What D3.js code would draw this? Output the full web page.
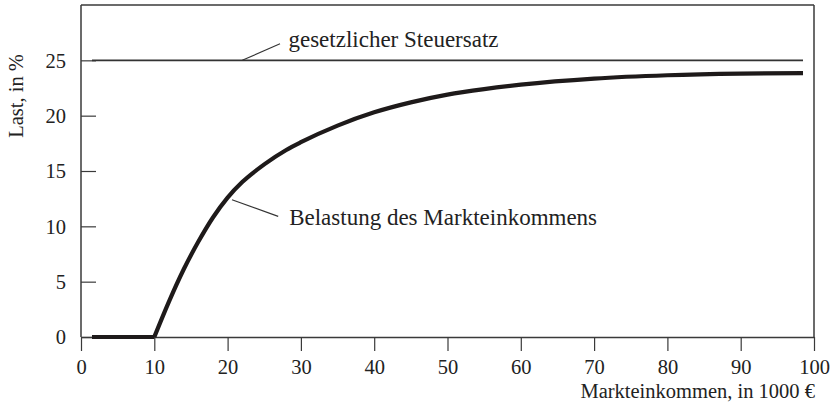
<!DOCTYPE html>
<html lang="de">
<head>
<meta charset="UTF-8">
<title>Belastung des Markteinkommens</title>
<style>
  body { margin: 0; background: #fff; }
  svg text { font-family: 'Liberation Serif', 'DejaVu Serif', serif; fill: #222; }
</style>
</head>
<body>
<div id="chart"></div>
<script src="https://cdnjs.cloudflare.com/ajax/libs/d3/7.8.5/d3.min.js"></script>
<script>
// Achsen
const xTicks = [0, 10, 20, 30, 40, 50, 60, 70, 80, 90, 100];
const yTicks = [0, 5, 10, 15, 20, 25];

// gesetzlicher Steuersatz (konstant)
const rateX = [1.5, 98.5];
const rateY = [25, 25];

// Freibetrag: keine Belastung bis 10
const freeX = [1.5, 10];
const freeY = [0, 0];

// Belastung des Markteinkommens
const loadX = [10, 12, 14, 16, 18, 20, 22, 25, 28, 30, 35, 40, 45, 50, 55, 60, 70, 80, 90, 98.5];
const loadY = [0, 3.2, 6.1, 8.6, 10.8, 12.6, 14.0, 15.6, 16.9, 17.6, 19.1, 20.3, 21.2, 21.9, 22.4, 22.8, 23.35, 23.65, 23.8, 23.85];

const margin = { top: 5, right: 19, bottom: 73, left: 81 };
const width = 833 - margin.left - margin.right;
const height = 410 - margin.top - margin.bottom;

const svg = d3.select("#chart").append("svg")
    .attr("width", 833)
    .attr("height", 410);
const g = svg.append("g")
    .attr("transform", `translate(${margin.left},${margin.top})`);

const x = d3.scaleLinear().domain([0, 100]).range([0, width]);
const y = d3.scaleLinear().domain([0, 30]).range([height, 0]);

const axisColor = "#3a3a3a";

// Rahmen oben und rechts
g.append("line")
    .attr("x1", x(0)).attr("x2", x(100))
    .attr("y1", y(30)).attr("y2", y(30))
    .attr("stroke", axisColor).attr("stroke-width", 1.5);
g.append("line")
    .attr("x1", x(100)).attr("x2", x(100))
    .attr("y1", y(30)).attr("y2", y(0))
    .attr("stroke", axisColor).attr("stroke-width", 1.5);

// x-Achse
const xAxis = g.append("g")
    .attr("transform", `translate(0,${y(0)})`)
    .call(d3.axisBottom(x).tickValues(xTicks).tickSize(14).tickPadding(8).tickSizeOuter(0));
xAxis.select(".domain").attr("stroke", axisColor).attr("stroke-width", 1.5);
xAxis.selectAll(".tick line").attr("stroke", axisColor).attr("stroke-width", 1.2);
xAxis.selectAll(".tick text").style("font-size", "20.5px").attr("fill", "#222");

// y-Achse (Striche nach innen)
const yAxis = g.append("g")
    .call(d3.axisRight(y).tickValues(yTicks).tickSize(15).tickFormat("").tickSizeOuter(0));
yAxis.select(".domain").remove();
yAxis.selectAll(".tick line").attr("stroke", axisColor).attr("stroke-width", 1.2);
g.append("line")
    .attr("x1", x(0)).attr("x2", x(0))
    .attr("y1", y(30)).attr("y2", y(0))
    .attr("stroke", axisColor).attr("stroke-width", 1.5);
g.append("g").selectAll("text")
    .data(yTicks)
    .enter().append("text")
    .attr("x", -15)
    .attr("y", d => y(d))
    .attr("dy", "0.35em")
    .attr("text-anchor", "end")
    .style("font-size", "20.5px")
    .text(d => d);

// Achsentitel
svg.append("text")
    .attr("x", 815)
    .attr("y", 398)
    .attr("text-anchor", "end")
    .style("font-size", "20.5px")
    .text("Markteinkommen, in 1000 €");
svg.append("text")
    .attr("transform", "translate(23,96) rotate(-90)")
    .attr("text-anchor", "middle")
    .style("font-size", "20.5px")
    .text("Last, in %");

const line = d3.line().x(d => x(d[0])).y(d => y(d[1]));

// gesetzlicher Steuersatz
g.append("path")
    .datum(d3.zip(rateX, rateY))
    .attr("d", line)
    .attr("fill", "none")
    .attr("stroke", "#333")
    .attr("stroke-width", 1.6);

// Belastung
g.append("path")
    .datum(d3.zip(freeX, freeY))
    .attr("d", line)
    .attr("fill", "none")
    .attr("stroke", "#1e1a1a")
    .attr("stroke-width", 4.2);
g.append("path")
    .datum(d3.zip(loadX, loadY))
    .attr("d", line.curve(d3.curveMonotoneX))
    .attr("fill", "none")
    .attr("stroke", "#1e1a1a")
    .attr("stroke-linejoin", "round")
    .attr("stroke-width", 4.2);

// Beschriftungen mit Hinweislinien
const notes = [
    { text: "gesetzlicher Steuersatz", from: [22.0, 25], to: [27.15, 26.5], at: [28.3, 26.2] },
    { text: "Belastung des Markteinkommens", from: [20.6, 12.4], to: [26.9, 10.9], at: [28.4, 10.1] }
];
notes.forEach(n => {
    g.append("line")
        .attr("x1", x(n.from[0])).attr("y1", y(n.from[1]))
        .attr("x2", x(n.to[0])).attr("y2", y(n.to[1]))
        .attr("stroke", "#333").attr("stroke-width", 1.1);
    g.append("text")
        .attr("x", x(n.at[0]))
        .attr("y", y(n.at[1]))
        .style("font-size", "23px")
        .text(n.text);
});
</script>
</body>
</html>
